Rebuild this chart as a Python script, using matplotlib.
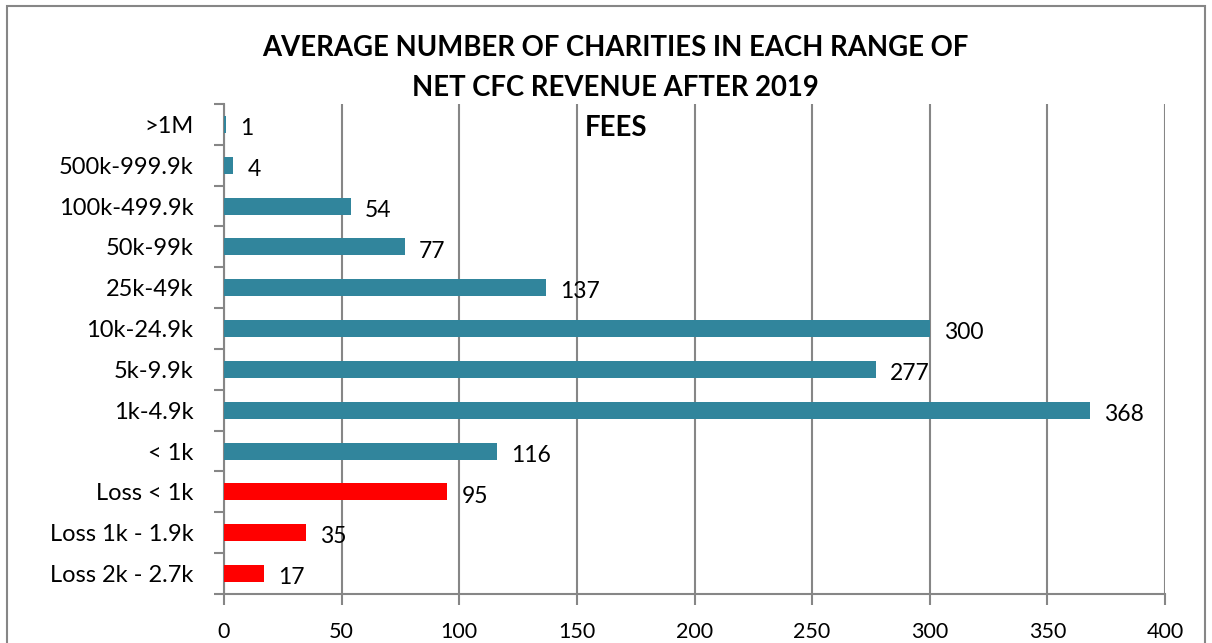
import matplotlib.pyplot as plt
from matplotlib.patches import Rectangle
from matplotlib.ticker import FixedLocator

# Data, top to bottom
categories = [">1M", "500k-999.9k", "100k-499.9k", "50k-99k", "25k-49k",
              "10k-24.9k", "5k-9.9k", "1k-4.9k", "< 1k",
              "Loss < 1k", "Loss 1k - 1.9k", "Loss 2k - 2.7k"]
counts = [1, 4, 54, 77, 137, 300, 277, 368, 116, 95, 35, 17]
is_loss = [False] * 9 + [True] * 3

TEAL = "#31859C"
RED = "#FF0000"
GRID = "#868686"

plt.rcParams["font.family"] = ["Lato", "DejaVu Sans"]

fig = plt.figure(figsize=(12.12, 6.43), dpi=100)
ax = fig.add_axes([224 / 1212, 1 - 594 / 643, (1165 - 224) / 1212, (594 - 104) / 643])

n = len(categories)
ypos = [n - 1 - i for i in range(n)]
colors = [RED if loss else TEAL for loss in is_loss]
ax.barh(ypos, counts, height=0.42, color=colors, zorder=3)

for y, v in zip(ypos, counts):
    ax.annotate(str(v), (v, y), xytext=(10, -3), textcoords="offset points",
                va="center", ha="left", fontsize=16.5, color="black")

ax.set_xlim(0, 400)
ax.set_ylim(-0.5, n - 0.5)
ax.set_xticks(range(0, 401, 50))
ax.set_yticks(ypos)
ax.set_yticklabels(categories, fontsize=17)
ax.yaxis.set_minor_locator(FixedLocator([k - 0.5 for k in range(n + 1)]))
ax.tick_params(axis="y", which="major", length=0, pad=22)
ax.tick_params(axis="y", which="minor", length=7, width=1.5, color=GRID)
ax.tick_params(axis="x", length=8, width=1.5, color=GRID, labelsize=15.5, pad=12)
ax.grid(axis="x", color=GRID, linewidth=1.5, zorder=0)
ax.set_axisbelow(True)
for side in ["top", "right"]:
    ax.spines[side].set_visible(False)
for side in ["left", "bottom"]:
    ax.spines[side].set_color(GRID)
    ax.spines[side].set_linewidth(1.5)

fig.text(615 / 1212, 1 - 68 / 643,
         "AVERAGE NUMBER OF CHARITIES IN EACH RANGE OF\nNET CFC REVENUE AFTER 2019",
         ha="center", va="center", fontsize=19.8, fontweight="bold", linespacing=1.65)
fig.text(616 / 1212, 1 - 128 / 643, "FEES", ha="center", va="center",
         fontsize=19.8, fontweight="bold")

# outer chart frame
fig.patches.append(Rectangle((7 / 1212, -0.05), (1205 - 7) / 1212, 1.05 - 6 / 643,
                             transform=fig.transFigure, fill=False,
                             edgecolor=GRID, linewidth=1.5))

fig.savefig("out.png", dpi=100)
